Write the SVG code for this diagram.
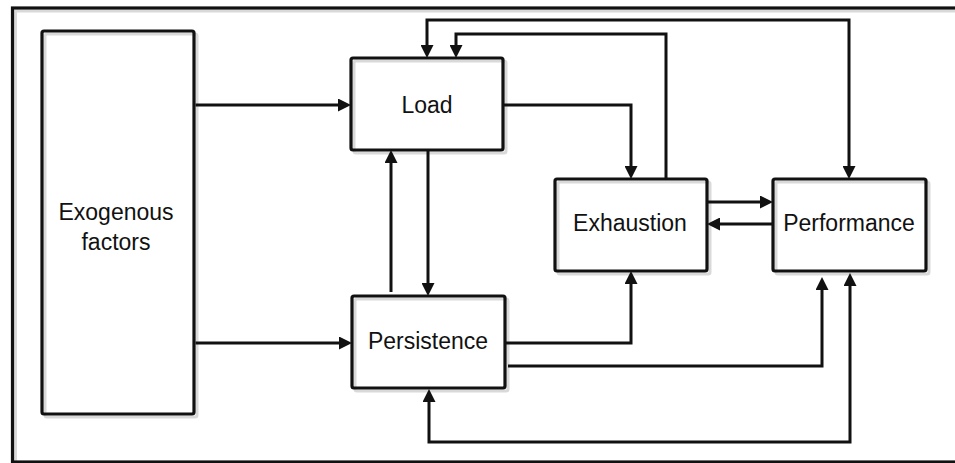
<svg xmlns="http://www.w3.org/2000/svg" width="955" height="463" viewBox="0 0 955 463">
<style>
.sh{fill:none;stroke:#d9d9d9;stroke-width:3}
.bx{fill:none;stroke:#111;stroke-width:3.2}
.t{font-family:"Liberation Sans",Arial,sans-serif;font-size:23px;fill:#111;text-anchor:middle}
.c{fill:none;stroke:#111;stroke-width:3;stroke-linejoin:miter}
.a{marker-end:url(#ah)}
.b{marker-start:url(#ah);marker-end:url(#ah)}
</style>
<defs>
<marker id="ah" viewBox="0 0 13 13" markerWidth="13" markerHeight="13" refX="3" refY="6.5" orient="auto-start-reverse" markerUnits="userSpaceOnUse">
<path d="M0,0 L13,6.5 L0,13 z" fill="#111"/>
</marker>
</defs>
<rect width="955" height="463" fill="#fff"/>
<g id="frame">
<rect class="sh" x="15.5" y="11" width="960" height="454"/>
<rect class="bx" x="12.5" y="8" width="960" height="454"/>
</g>
<g id="exogenous">
<rect class="sh" x="45" y="34" width="152" height="383" rx="2"/>
<rect class="bx" x="42" y="31" width="152" height="383" rx="2"/>
<text class="t" x="116" y="220">Exogenous</text>
<text class="t" x="116" y="250">factors</text>
</g>
<g id="load">
<rect class="sh" x="354" y="61" width="152" height="92" rx="2"/>
<rect class="bx" x="351" y="58" width="152" height="92" rx="2"/>
<text class="t" x="427" y="113">Load</text>
</g>
<g id="exhaustion">
<rect class="sh" x="558" y="182" width="152" height="92" rx="2"/>
<rect class="bx" x="555" y="179" width="152" height="92" rx="2"/>
<text class="t" x="630" y="231">Exhaustion</text>
</g>
<g id="performance">
<rect class="sh" x="776" y="182" width="153" height="92" rx="2"/>
<rect class="bx" x="773" y="179" width="153" height="92" rx="2"/>
<text class="t" x="849" y="231">Performance</text>
</g>
<g id="persistence">
<rect class="sh" x="355" y="299" width="153" height="92" rx="2"/>
<rect class="bx" x="352" y="296" width="153" height="92" rx="2"/>
<text class="t" x="428" y="349">Persistence</text>
</g>
<g id="connectors">
<path class="c a" d="M195.5,105 H341"/>
<path class="c a" d="M195.5,343 H342"/>
<path class="c a" d="M391,292 V160"/>
<path class="c a" d="M428,151 V286"/>
<path class="c a" d="M504,105 H631 V169"/>
<path class="c a" d="M666,178 V34 H456 V48"/>
<path class="c b" d="M427,48 V20 H849 V169"/>
<path class="c a" d="M708,202 H763"/>
<path class="c a" d="M772,224 H717"/>
<path class="c a" d="M506,343 H631 V281"/>
<path class="c a" d="M508,366 H822 V287"/>
<path class="c b" d="M429,399 V442 H850 V283"/>
</g>
</svg>
